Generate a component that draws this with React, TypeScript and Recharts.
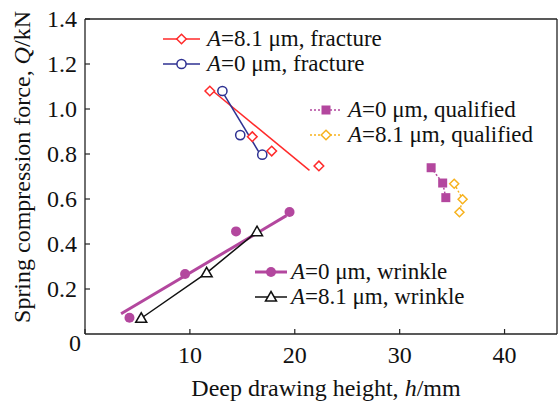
import React from 'react';
import { ScatterChart, Scatter, XAxis, YAxis, ReferenceLine } from 'recharts';

// ---- data ----
const xTicks = [0, 10, 20, 30, 40];
const yTicks = [0.2, 0.4, 0.6, 0.8, 1.0, 1.2, 1.4];

const frac81 = [
  { x: 11.9, y: 1.08 },
  { x: 15.95, y: 0.877 },
  { x: 17.8, y: 0.813 },
  { x: 22.3, y: 0.747 },
];
const frac81Fit = [
  { x: 11.9, y: 1.091 },
  { x: 21.4, y: 0.727 },
];
const frac0 = [
  { x: 13.1, y: 1.08 },
  { x: 14.8, y: 0.884 },
  { x: 16.9, y: 0.797 },
];
const frac0Fit = [
  { x: 12.9, y: 1.092 },
  { x: 16.65, y: 0.803 },
];
const qual0 = [
  { x: 33.0, y: 0.739 },
  { x: 34.1, y: 0.671 },
  { x: 34.4, y: 0.606 },
];
const qual81 = [
  { x: 35.2, y: 0.668 },
  { x: 36.0, y: 0.599 },
  { x: 35.7, y: 0.541 },
];
const wrinkle0 = [
  { x: 4.24, y: 0.072 },
  { x: 9.54, y: 0.267 },
  { x: 14.4, y: 0.456 },
  { x: 19.5, y: 0.542 },
];
const wrinkle0Fit = [
  { x: 3.44, y: 0.09 },
  { x: 19.2, y: 0.526 },
];
const wrinkle81 = [
  { x: 5.36, y: 0.07 },
  { x: 11.6, y: 0.272 },
  { x: 16.4, y: 0.455 },
];

const legendFracture = ['=8.1 \u03bcm, fracture', '=0 \u03bcm, fracture'];
const legendQualified = ['=0 \u03bcm, qualified', '=8.1 \u03bcm, qualified'];
const legendWrinkle = ['=0 \u03bcm, wrinkle', '=8.1 \u03bcm, wrinkle'];

// ---- styles ----
const RED = '#ff2a2a';
const BLUE = '#2e3192';
const MAG = '#b3479e';
const ORANGE = '#f7b21e';
const BLACK = '#111';
const FONT = '"Liberation Serif", "Times New Roman", serif';
const AXIS = '#222';

const W = 558;
const H = 401;
const Y_AXIS_W = 40;
const X_AXIS_H = 40;
const M = { top: 19, right: 1, bottom: 67 - X_AXIS_H, left: 85 - Y_AXIS_W };

// ---- marker shapes ----
const Diamond = ({ cx, cy, color, r = 4.8 }: any) => (
  <polygon
    points={`${cx},${cy - r} ${cx + r},${cy} ${cx},${cy + r} ${cx - r},${cy}`}
    fill="#fff"
    stroke={color}
    strokeWidth={1.5}
  />
);
const OpenCircle = ({ cx, cy, color }: any) => (
  <circle cx={cx} cy={cy} r={4.6} fill="#fff" stroke={color} strokeWidth={1.5} />
);
const FilledSquare = ({ cx, cy, color }: any) => (
  <rect x={cx - 4.5} y={cy - 4.5} width={9} height={9} fill={color} />
);
const FilledCircle = ({ cx, cy, color }: any) => (
  <circle cx={cx} cy={cy} r={5} fill={color} />
);
const Triangle = ({ cx, cy, color }: any) => (
  <polygon
    points={`${cx},${cy - 5.5} ${cx + 5.5},${cy + 4} ${cx - 5.5},${cy + 4}`}
    fill="#fff"
    stroke={color}
    strokeWidth={1.5}
  />
);
const Nothing = () => <g />;

// ---- ticks ----
const XTick = (props: any) => {
  const { x, y, payload } = props;
  const v = payload.value;
  return (
    <g>
      <line x1={x} y1={y} x2={x} y2={y - 5} stroke={AXIS} strokeWidth={1.2} />
      <text
        x={v === 0 ? x - 10 : x}
        y={v === 0 ? y + 17 : y + 29}
        textAnchor="middle"
        fontFamily={FONT}
        fontSize={24}
        fill="#111"
      >
        {v}
      </text>
    </g>
  );
};
const YTick = (props: any) => {
  const { x, y, payload } = props;
  return (
    <g>
      <line x1={x} y1={y} x2={x + 5} y2={y} stroke={AXIS} strokeWidth={1.2} />
      <text x={x - 8} y={y + 8} textAnchor="end" fontFamily={FONT} fontSize={24} fill="#111">
        {payload.value.toFixed(1)}
      </text>
    </g>
  );
};

const LegendRow = ({ x1, x2, y, textX, color, dashed, Marker, label, width = 1.5 }: any) => (
  <g>
    <line
      x1={x1}
      y1={y}
      x2={x2}
      y2={y}
      stroke={color}
      strokeWidth={width}
      strokeDasharray={dashed ? '2 2' : undefined}
    />
    <Marker cx={(x1 + x2) / 2} cy={y} color={color} />
    <text x={textX} y={y + 7} fontFamily={FONT} fontSize={23} fill="#111">
      <tspan fontStyle="italic">A</tspan>
      {label}
    </text>
  </g>
);

export default function App() {
  return (
    <div style={{ position: 'absolute', left: 0, top: 0, width: W, height: H, background: '#fff' }}>
      <ScatterChart width={W} height={H} margin={M}>
        <XAxis
          type="number"
          dataKey="x"
          domain={[0, 45]}
          ticks={xTicks}
          height={X_AXIS_H}
          tickSize={0}
          tickMargin={0}
          tickLine={false}
          tick={<XTick />}
          axisLine={{ stroke: AXIS, strokeWidth: 1.3 }}
          allowDataOverflow
          interval={0}
        />
        <YAxis
          type="number"
          dataKey="y"
          domain={[0, 1.4]}
          ticks={yTicks}
          width={Y_AXIS_W}
          tickSize={0}
          tickMargin={0}
          tickLine={false}
          tick={<YTick />}
          axisLine={{ stroke: AXIS, strokeWidth: 1.3 }}
          allowDataOverflow
          interval={0}
        />
        <ReferenceLine y={1.4} stroke={AXIS} strokeWidth={1.3} />
        <ReferenceLine x={45} stroke={AXIS} strokeWidth={1.3} />

        <Scatter data={frac81Fit} line={{ stroke: RED, strokeWidth: 1.5 }} shape={<Nothing />} isAnimationActive={false} />
        <Scatter data={frac0Fit} line={{ stroke: BLUE, strokeWidth: 1.5 }} shape={<Nothing />} isAnimationActive={false} />
        <Scatter data={wrinkle0Fit} line={{ stroke: MAG, strokeWidth: 3 }} shape={<Nothing />} isAnimationActive={false} />
        <Scatter
          data={qual0}
          line={{ stroke: MAG, strokeWidth: 1.5, strokeDasharray: '2 2' }}
          shape={<FilledSquare color={MAG} />}
          isAnimationActive={false}
        />
        <Scatter
          data={qual81}
          line={{ stroke: ORANGE, strokeWidth: 1.5, strokeDasharray: '2 2' }}
          shape={<Diamond color={ORANGE} r={4.5} />}
          isAnimationActive={false}
        />
        <Scatter
          data={wrinkle81}
          line={{ stroke: BLACK, strokeWidth: 1.5 }}
          shape={<Triangle color={BLACK} />}
          isAnimationActive={false}
        />
        <Scatter data={frac81} shape={<Diamond color={RED} />} isAnimationActive={false} />
        <Scatter data={frac0} shape={<OpenCircle color={BLUE} />} isAnimationActive={false} />
        <Scatter data={wrinkle0} shape={<FilledCircle color={MAG} />} isAnimationActive={false} />
      </ScatterChart>

      <svg
        width={W}
        height={H}
        style={{ position: 'absolute', left: 0, top: 0, pointerEvents: 'none' }}
      >
        <LegendRow x1={163} x2={200} y={39} textX={207} color={RED} Marker={Diamond} label={legendFracture[0]} />
        <LegendRow x1={163} x2={200} y={64} textX={207} color={BLUE} Marker={OpenCircle} label={legendFracture[1]} />
        <LegendRow x1={310} x2={342} y={110} textX={348} color={MAG} dashed Marker={FilledSquare} label={legendQualified[0]} />
        <LegendRow x1={310} x2={342} y={135} textX={348} color={ORANGE} dashed Marker={Diamond} label={legendQualified[1]} />
        <LegendRow x1={255} x2={287} y={272} textX={291} color={MAG} width={3} Marker={FilledCircle} label={legendWrinkle[0]} />
        <LegendRow x1={255} x2={287} y={297} textX={291} color={BLACK} Marker={Triangle} label={legendWrinkle[1]} />

        <text x={326} y={396} textAnchor="middle" fontFamily={FONT} fontSize={24} fill="#111">
          Deep drawing height, <tspan fontStyle="italic">h</tspan>/mm
        </text>
        <text
          x={0}
          y={0}
          transform="translate(30,167) rotate(-90)"
          textAnchor="middle"
          fontFamily={FONT}
          fontSize={24}
          fill="#111"
        >
          Spring compression force, <tspan fontStyle="italic">Q</tspan>/kN
        </text>
      </svg>
    </div>
  );
}
